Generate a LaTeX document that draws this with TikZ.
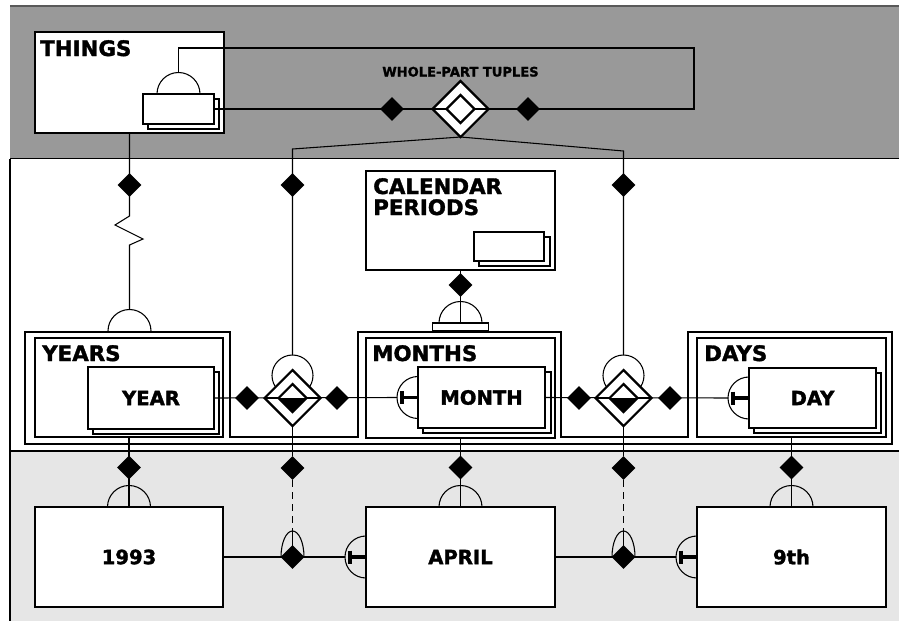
\documentclass[tikz,border=0pt]{standalone}
\usepackage{fontspec}
\setmainfont{DejaVu Sans}[BoldFeatures={FakeBold=1.6}]
\usetikzlibrary{shapes.geometric,fit,calc}
\definecolor{topgrey}{HTML}{999999}
\definecolor{lowgrey}{HTML}{E6E6E6}
\newcommand\ttlfont{\fontsize{16}{18}\selectfont\bfseries}
\newcommand\labfont{\fontsize{14.7}{16}\selectfont\bfseries}
\newcommand\tinyttl{\fontsize{9.8}{11}\selectfont\bfseries}
\tikzset{
  cup/.pic={\draw[line width=0.8pt] (-21.5,0) arc[start angle=180,end angle=360,radius=21.5];},
  tack/.pic={\draw[line width=0.8pt] (0,-21) arc[start angle=270,end angle=90,radius=21];
             \draw[line width=2.3pt] (-16,0) -- (0,0);
             \draw[line width=2.3pt] (-16,-6.5) -- (-16,6.5);},
  oval/.pic={\draw[line width=0.8pt] (-11.5,0) arc[start angle=180,end angle=360,x radius=11.5,y radius=26];
             \draw[line width=0.8pt] (0,-26) -- (0,0);}
}
% relationship symbol: circle, double diamond with a half-filled core
\newcommand\relsym[3]{%
  \coordinate (#1c) at (#2,#3-22.5);
  \draw[ln] (#1c) circle[radius=20.5];
  \node[odia] (#1o) at (#2,#3) {};
  \draw[ln] (#1o.west) -- (#1o.east);
  \node[idia] (#1i) at (#2,#3) {};
  \fill (#1i.west) -- (#1i.south) -- (#1i.east) -- cycle;
}
\begin{document}
\begin{tikzpicture}[x=0.75pt,y=-0.75pt,
  ln/.style={line width=0.8pt},
  ebox/.style={draw,line width=1.6pt,fill=white,inner sep=0pt,outer sep=0pt},
  sbox/.style={draw,line width=0.8pt,fill=white,inner sep=0pt,outer sep=0pt},
  lab/.style={font=\labfont,inner sep=0pt},
  fdia/.style={diamond,fill=black,inner sep=0pt,minimum width=18pt,minimum height=18pt},
  odia/.style={diamond,draw,fill=white,line width=1.6pt,inner sep=0pt,outer sep=0pt,minimum width=42pt,minimum height=42pt},
  idia/.style={diamond,draw,fill=white,line width=1.6pt,inner sep=0pt,outer sep=0pt,minimum width=21pt,minimum height=21pt},
  ttl/.style={font=\ttlfont,anchor=base west,inner sep=0pt},
]
\useasboundingbox (0,0) rectangle (899,621);

% background bands
\fill[topgrey] (10,6) rectangle (899,158.5);
\draw[line width=0.8pt,black!65] (10,6) -- (899,6);
\fill[lowgrey] (10,451) rectangle (899,621);
\draw[ln] (10,158.5) -- (899,158.5);
\draw[ln] (10,451) -- (899,451);
\draw[ln] (10,158.5) -- (10,621);

% frame around the years / months / days row
\draw[ln] (25,332) -- (230,332) -- (230,437) -- (358,437) -- (358,332) -- (561,332)
  -- (561,437) -- (688,437) -- (688,332) -- (892,332) -- (892,444) -- (25,444) -- cycle;

% THINGS
\node[ebox,fit={(35,32)(224,133)}] (things) {};
\node[ttl] (thingsT) at (40,56) {THINGS};
\node[ebox,fit={(148,99)(219,129)}] (thingsB) {};
\node[ebox,fit={(143,94)(214,124)}] (thingsF) {};
\pic at (thingsF.north) {cup};
\coordinate (tA) at (178.5,48);
\coordinate (tB) at (694,48);
\coordinate (tC) at (694,109);
\draw[ln] ($(thingsF.north)+(0,-21.5)$) -- (tA) -- (tB) -- (tC) -- (thingsF.east |- tC);

% whole-part tuples
\node[odia] (wpo) at (460.5,109) {};
\draw[ln] (wpo.west) -- (wpo.east);
\node[idia] (wpi) at (460.5,109) {};
\node[fdia] (wpl) at (392,109) {};
\node[fdia] (wpr) at (528,109) {};
\node[font=\tinyttl,anchor=base,inner sep=0pt] (wpT) at (460.5,76.5) {WHOLE-PART TUPLES};

% links from the tuples down to the two relationships
\coordinate (kl) at (292.5,149);
\coordinate (kr) at (623.5,151);
\coordinate (r1top) at (292.5,355);
\coordinate (r2top) at (623.5,355);
\draw[ln] (wpo.south) -- (kl) -- (r1top);
\draw[ln] (wpo.south) -- (kr) -- (r2top);
\node[fdia] (dl) at (292.5,185) {};
\node[fdia] (dr) at (623.5,185) {};

% THINGS to YEARS, with a break mark
\coordinate (ycup) at (129.5,331);
\draw[ln] (things.south) -- (129.5,216) -- (115,225) -- (143,239) -- (129.5,245) -- ($(ycup)+(0,-21.5)$);
\pic at (ycup) {cup};
\node[fdia] (dt) at (129.5,185) {};

% CALENDAR PERIODS
\node[ebox,fit={(366,171)(555,270)}] (cal) {};
\node[ttl] (calT1) at (373,194) {CALENDAR};
\node[ttl] (calT2) at (373,215) {PERIODS};
\node[ebox,fit={(479,237)(550,266)}] (calB) {};
\node[ebox,fit={(474,232)(544,261)}] (calF) {};
\node[sbox,fit={(432.5,323)(488.5,331)}] (mcap) {};
\draw[ln] (cal.south) -- (mcap.north);
\pic at (mcap.north) {cup};
\node[fdia] (dc) at (460.5,285) {};

% YEARS
\node[ebox,fit={(35,338)(223,437)}] (years) {};
\node[ttl] (yearsT) at (42,361) {YEARS};
\node[ebox,fit={(93,372)(219,434)}] (yearB) {};
\node[ebox,fit={(88,367)(214,429)}] (yearF) {};
\node[lab] (yearL) at (yearF.center) {YEAR};

% MONTHS
\node[ebox,fit={(366,338)(555,438)}] (months) {};
\node[ttl] (monthsT) at (372,361) {MONTHS};
\node[ebox,fit={(423,372)(551,433)}] (monthB) {};
\node[ebox,fit={(418,367)(545,428)}] (monthF) {};
\node[lab] (monthL) at (monthF.center) {MONTH};

% DAYS
\node[ebox,fit={(697,338)(886,437)}] (days) {};
\node[ttl] (daysT) at (704,361) {DAYS};
\node[ebox,fit={(754,373)(881,433)}] (dayB) {};
\node[ebox,fit={(749,368)(876,428)}] (dayF) {};
\node[lab] (dayL) at (dayF.center) {DAY};

% horizontal connectors through the relationships
\draw[ln] (yearF.east) -- ($(monthF.west)+(-21,0)$);
\draw[ln] (monthF.east) -- ($(dayF.west)+(-21,0)$);
\relsym{ra}{292.5}{398}
\relsym{rb}{623.5}{398}
\node[fdia] (ra1) at (247,398) {};
\node[fdia] (ra2) at (337,398) {};
\node[fdia] (rb1) at (579,398) {};
\node[fdia] (rb2) at (670,398) {};
\pic at (monthF.west) {tack};
\pic at (dayF.west) {tack};

% bottom row
\node[ebox,fit={(35,507)(223,607)}] (b93) {};
\node[lab] (b93L) at (b93.center) {1993};
\node[ebox,fit={(366,507)(555,607)}] (april) {};
\node[lab] (aprilL) at (april.center) {APRIL};
\node[ebox,fit={(697,507)(886,607)}] (ninth) {};
\node[lab] (ninthL) at (ninth.center) {9th};

\draw[ln] (years.south) -- (b93.north);
\pic at (b93.north) {cup};
\node[fdia] (dy) at (129,467.5) {};
\draw[ln] (months.south) -- (april.north);
\pic at (april.north) {cup};
\node[fdia] (dm) at (460.5,467.5) {};
\draw[ln] (days.south) -- (ninth.north);
\pic at (ninth.north) {cup};
\node[fdia] (dd) at (791.5,467.5) {};

% instance links
\node[fdia] (ia) at (292.5,468) {};
\node[fdia] (ib) at (623.5,468) {};
\coordinate (oa) at (292.5,557);
\coordinate (ob) at (623.5,557);
\draw[ln] (rao.south) -- (ia.north);
\draw[ln] (rbo.south) -- (ib.north);
\draw[ln,dash pattern=on 5pt off 4pt] (ia.south) -- ($(oa)+(0,-26)$);
\draw[ln,dash pattern=on 5pt off 4pt] (ib.south) -- ($(ob)+(0,-26)$);
\draw[ln] (b93.east) -- ($(april.west)+(-21,0)$);
\draw[ln] (april.east) -- ($(ninth.west)+(-21,0)$);
\pic at (oa) {oval};
\pic at (ob) {oval};
\node[fdia] (sa) at (oa) {};
\node[fdia] (sb) at (ob) {};
\pic at (april.west) {tack};
\pic at (ninth.west) {tack};
\end{tikzpicture}
\end{document}
